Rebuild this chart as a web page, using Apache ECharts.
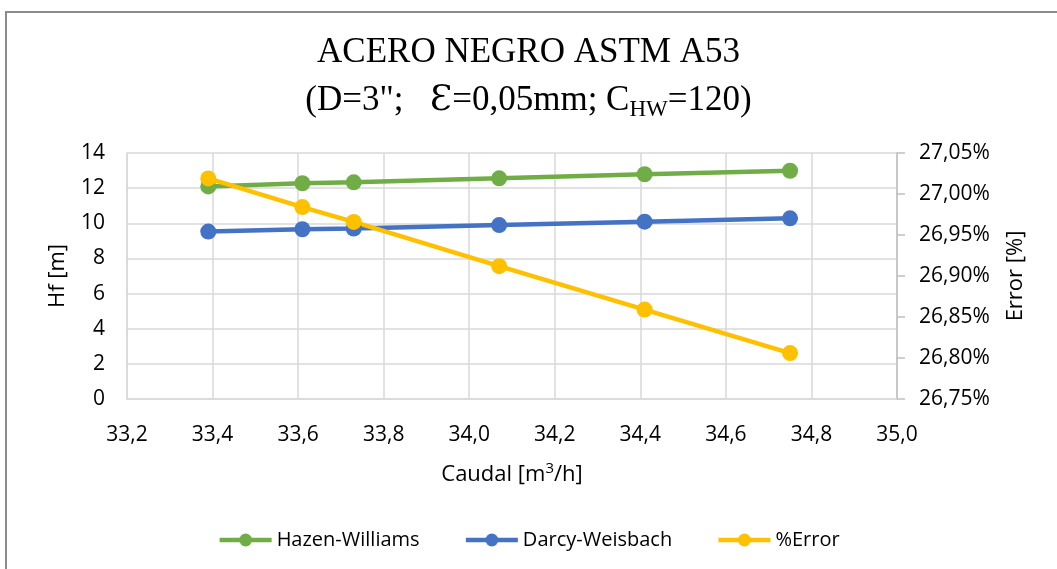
<!DOCTYPE html>
<html>
<head>
<meta charset="utf-8">
<script src="https://cdn.jsdelivr.net/npm/echarts@6/dist/echarts.min.js"></script>
<style>
  html, body { margin: 0; padding: 0; background: #fff; }
  #chart { width: 1057px; height: 569px; }
</style>
</head>
<body>
<div id="chart"></div>
<script>
// datos
var caudal = [33.39, 33.61, 33.73, 34.07, 34.41, 34.75]
var hazenWilliams = [12.1, 12.28, 12.33, 12.56, 12.79, 12.99]
var darcyWeisbach = [9.53, 9.66, 9.7, 9.9, 10.09, 10.28]
var errorPct = [27.019, 26.984, 26.966, 26.912, 26.859, 26.806]
var seriesNames = ['Hazen-Williams', 'Darcy-Weisbach', '%Error']
var colors = ['#70AD47', '#4472C4', '#FFC000']

var font = 'Open Sans'
var gridColor = '#D9D9D9'

function pairs (xs, ys) {
  return xs.map(function (x, i) { return [x, ys[i]] })
}

function comma (v, d) {
  return v.toFixed(d).replace('.', ',')
}

var chart = echarts.init(document.getElementById('chart'))

function lineSeries (name, data, color, yIndex) {
  return {
    name: name,
    type: 'line',
    yAxisIndex: yIndex,
    data: data,
    symbol: 'circle',
    symbolSize: 16,
    lineStyle: { color: color, width: 4.5 },
    itemStyle: { color: color },
    animation: false
  }
}

var option = {
  color: colors,
  textStyle: { fontFamily: font },
  graphic: [
    {
      type: 'rect',
      shape: { x: 6, y: 12, width: 1200, height: 700 },
      style: { fill: 'none', stroke: '#8C8C8C', lineWidth: 2 }
    }
  ],
  title: {
    left: 'center',
    top: 24,
    text: '{a|ACERO NEGRO ASTM A53}\n{a|(D=3";   }{e|Ɛ}{a|=0,05mm; C}{s|HW}{a|=120)}',
    textStyle: {
      rich: {
        a: { fontFamily: 'Liberation Serif', fontWeight: 'normal', fontSize: 35, color: '#000', lineHeight: 48 },
        e: { fontFamily: 'DejaVu Serif', fontWeight: 'normal', fontSize: 36, color: '#000', lineHeight: 48 },
        s: { fontFamily: 'Liberation Serif', fontWeight: 'normal', fontSize: 23, color: '#000', lineHeight: 48, padding: [18, 0, 0, 0] }
      }
    }
  },
  legend: {
    bottom: 14,
    left: 'center',
    itemWidth: 52,
    itemHeight: 16,
    itemGap: 44,
    data: seriesNames,
    lineStyle: { width: 4.5 },
    textStyle: { fontSize: 20, color: '#000', fontFamily: font }
  },
  grid: { left: 127, right: 160, top: 153, bottom: 170 },
  xAxis: {
    type: 'value',
    min: 33.2,
    max: 35.0,
    interval: 0.2,
    name: 'Caudal [m{sup|3}/h]',
    nameLocation: 'middle',
    nameGap: 62,
    nameTextStyle: {
      fontSize: 22, color: '#000', fontFamily: font,
      rich: { sup: { fontSize: 15, color: '#000', fontFamily: font, padding: [0, 0, 12, 0] } }
    },
    axisLine: { show: true, lineStyle: { color: gridColor, width: 1.5 } },
    axisTick: { show: false },
    splitLine: { show: true, lineStyle: { color: gridColor, width: 1.5 } },
    axisLabel: {
      margin: 26,
      fontSize: 21,
      color: '#000',
      formatter: function (v) { return comma(v, 1) }
    }
  },
  yAxis: [
    {
      type: 'value',
      min: 0,
      max: 14,
      interval: 2,
      name: 'Hf [m]',
      nameLocation: 'middle',
      nameGap: 58,
      nameTextStyle: { fontSize: 22, color: '#000', fontFamily: font },
      axisLine: { show: true, lineStyle: { color: gridColor, width: 1.5 } },
      axisTick: { show: false },
      splitLine: { show: true, lineStyle: { color: gridColor, width: 1.5 } },
      axisLabel: { margin: 22, fontSize: 21, color: '#000' }
    },
    {
      type: 'value',
      position: 'right',
      min: 26.75,
      max: 27.05,
      interval: 0.05,
      name: 'Error [%]',
      nameLocation: 'middle',
      nameGap: 108,
      nameRotate: 90,
      nameTextStyle: { fontSize: 22, color: '#000', fontFamily: font },
      axisLine: { show: true, lineStyle: { color: '#BFBFBF', width: 1.5 } },
      axisTick: { show: true, length: 8, inside: false, lineStyle: { color: '#BFBFBF', width: 1.5 } },
      splitLine: { show: false },
      axisLabel: {
        margin: 22,
        fontSize: 21,
        color: '#000',
        formatter: function (v) { return comma(v, 2) + '%' }
      }
    }
  ],
  series: [
    lineSeries(seriesNames[0], pairs(caudal, hazenWilliams), colors[0], 0),
    lineSeries(seriesNames[1], pairs(caudal, darcyWeisbach), colors[1], 0),
    lineSeries(seriesNames[2], pairs(caudal, errorPct), colors[2], 1)
  ]
}

chart.setOption(option)
window.onresize = chart.resize
</script>
</body>
</html>
